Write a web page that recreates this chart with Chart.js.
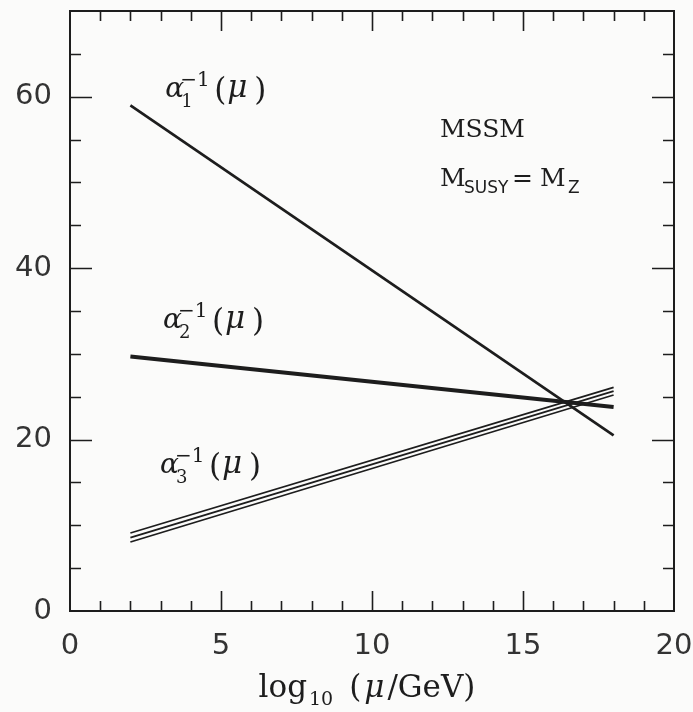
<!DOCTYPE html>
<html>
<head>
<meta charset="utf-8">
<script src="https://cdn.jsdelivr.net/npm/chart.js@4/dist/chart.umd.min.js"></script>
<style>
  html, body { margin: 0; padding: 0; background: #fbfbfa; }
  #wrap { width: 693px; height: 712px; }
</style>
</head>
<body>
<div id="wrap"><canvas id="chart"></canvas></div>
<script>
// ---- Data ----
const muRange = [2, 18];            // log10(mu/GeV) at the two ends of each line
const alpha1Inv = [59.0, 20.5];
const alpha2Inv = [29.7, 23.8];
const alpha3InvHigh = [9.1, 26.1];
const alpha3InvMid = [8.55, 25.65];
const alpha3InvLow = [8.05, 25.2];
const xTickLabels = [0, 5, 10, 15, 20];
const yTickLabels = [0, 20, 40, 60];

const INK = "#1d1d1d";
const SERIF = "'DejaVu Serif', serif";
const SANS = "'DejaVu Sans', sans-serif";

function toPoints(xs, ys) {
  return xs.map((x, i) => ({ x: x, y: ys[i] }));
}

function lineSet(label, ys, width) {
  return {
    label: label,
    data: toPoints(muRange, ys),
    showLine: true,
    borderColor: INK,
    borderWidth: width,
    pointRadius: 0,
    borderCapStyle: "butt",
    fill: false
  };
}

// ---- Frame, inward ticks and labels ----
const framePlugin = {
  id: "frame",
  afterDatasetsDraw(chart) {
    const ctx = chart.ctx;
    const a = chart.chartArea;
    const xs = chart.scales.x;
    const ys = chart.scales.y;
    ctx.save();
    ctx.strokeStyle = INK;
    ctx.lineWidth = 2;
    ctx.strokeRect(a.left, a.top, a.right - a.left, a.bottom - a.top);

    ctx.lineWidth = 1.6;
    ctx.beginPath();
    // x ticks every 1, long every 5 (bottom and top)
    for (let v = 1; v < 20; v++) {
      const px = Math.round(xs.getPixelForValue(v)) + 0.5;
      const len = v % 5 === 0 ? 20 : 10;
      ctx.moveTo(px, a.bottom); ctx.lineTo(px, a.bottom - len);
      ctx.moveTo(px, a.top); ctx.lineTo(px, a.top + len);
    }
    // y ticks every 5, long every 20 (left and right)
    for (let v = 5; v < 70; v += 5) {
      const py = Math.round(ys.getPixelForValue(v)) + 0.5;
      const len = v % 20 === 0 ? 22 : 11;
      ctx.moveTo(a.left, py); ctx.lineTo(a.left + len, py);
      ctx.moveTo(a.right, py); ctx.lineTo(a.right - len, py);
    }
    ctx.stroke();

    ctx.fillStyle = INK;
    ctx.textBaseline = "alphabetic";
    ctx.textAlign = "left";

    // coupling labels
    const alphaLabel = (xv, yv, sub) => {
      const px = xs.getPixelForValue(xv);
      const py = ys.getPixelForValue(yv);
      ctx.font = "italic 28px " + SERIF;
      ctx.fillText("\u03b1", px, py);
      ctx.font = "20px " + SERIF;
      ctx.fillText("\u22121", px + 15, py - 11);
      ctx.font = "18px " + SERIF;
      ctx.fillText(sub, px + 16, py + 10);
      ctx.font = "31px " + SERIF;
      ctx.fillText("(", px + 49, py + 3);
      ctx.font = "italic 31px " + SERIF;
      ctx.fillText("\u03bc", px + 62, py);
      ctx.font = "31px " + SERIF;
      ctx.fillText(")", px + 89, py + 3);
    };
    alphaLabel(3.15, 60.0, "1");
    alphaLabel(3.08, 33.0, "2");
    alphaLabel(2.98, 16.1, "3");

    // MSSM text
    const mx = xs.getPixelForValue(12.25);
    const my1 = ys.getPixelForValue(55.3);
    const my2 = ys.getPixelForValue(49.6);
    ctx.font = "25px " + SERIF;
    ctx.fillText("MSSM", mx, my1);
    ctx.fillText("M", mx, my2);
    ctx.fillText("=", mx + 72, my2);
    ctx.fillText("M", mx + 100, my2);
    ctx.font = "17px " + SANS;
    ctx.fillText("SUSY", mx + 24, my2 + 7);
    ctx.fillText("Z", mx + 128, my2 + 7);

    // x axis title: log10 (mu/GeV)
    const parts = [
      { t: "log", f: "31px " + SERIF, dy: 0, gap: 2 },
      { t: "10", f: "19px " + SERIF, dy: 8, gap: 16 },
      { t: "(", f: "31px " + SERIF, dy: 0, gap: 3 },
      { t: "\u03bc", f: "italic 31px " + SERIF, dy: 0, gap: 3 },
      { t: "/GeV)", f: "31px " + SERIF, dy: 0, gap: 0 }
    ];
    let total = 0;
    parts.forEach(p => { ctx.font = p.f; p.w = ctx.measureText(p.t).width; total += p.w + p.gap; });
    let tx = (a.left + a.right) / 2 - 5 - total / 2;
    const ty = a.bottom + 86;
    parts.forEach(p => {
      ctx.font = p.f;
      ctx.fillText(p.t, tx, ty + p.dy);
      tx += p.w + p.gap;
    });
    ctx.restore();
  }
};

const ctx = document.getElementById("chart");
new Chart(ctx, {
  type: "scatter",
  data: {
    datasets: [
      lineSet("alpha1^-1", alpha1Inv, 2.7),
      lineSet("alpha2^-1", alpha2Inv, 4),
      lineSet("alpha3^-1 high", alpha3InvHigh, 1.8),
      lineSet("alpha3^-1", alpha3InvMid, 1.8),
      lineSet("alpha3^-1 low", alpha3InvLow, 1.8)
    ]
  },
  options: {
    responsive: true,
    maintainAspectRatio: false,
    animation: false,
    layout: { padding: { top: 11, right: 19, left: 0, bottom: 0 } },
    plugins: {
      legend: { display: false },
      tooltip: { enabled: false }
    },
    scales: {
      x: {
        type: "linear",
        min: 0,
        max: 20,
        grid: { display: false, drawTicks: false },
        border: { display: false },
        afterBuildTicks: (s) => { s.ticks = xTickLabels.map(v => ({ value: v })); },
        afterFit: (s) => { s.height = 101; s.paddingLeft = 0; s.paddingRight = 0; },
        ticks: {
          padding: 18,
          maxRotation: 0,
          color: "#333333",
          font: { family: "DejaVu Sans", size: 29 }
        }
      },
      y: {
        type: "linear",
        min: 0,
        max: 70,
        grid: { display: false, drawTicks: false },
        border: { display: false },
        afterBuildTicks: (s) => { s.ticks = yTickLabels.map(v => ({ value: v })); },
        afterFit: (s) => { s.width = 70; s.paddingTop = 0; s.paddingBottom = 0; },
        ticks: {
          padding: 18,
          color: "#333333",
          font: { family: "DejaVu Sans", size: 29 }
        }
      }
    }
  },
  plugins: [framePlugin]
});
</script>
</body>
</html>
